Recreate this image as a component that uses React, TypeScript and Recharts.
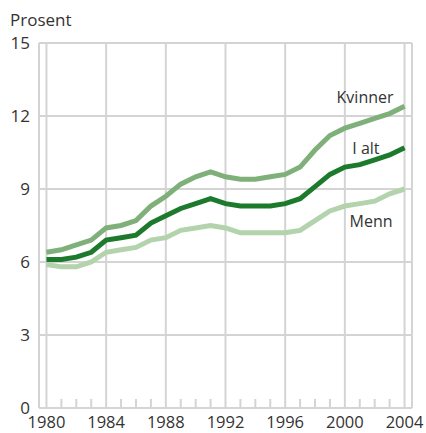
import React from 'react';
import { LineChart, Line, XAxis, YAxis, CartesianGrid, ReferenceLine, Customized } from 'recharts';

const years = [1980,1981,1982,1983,1984,1985,1986,1987,1988,1989,1990,1991,1992,1993,1994,1995,1996,1997,1998,1999,2000,2001,2002,2003,2004];
const kvinner = [6.4,6.5,6.7,6.9,7.4,7.5,7.7,8.3,8.7,9.2,9.5,9.7,9.5,9.4,9.4,9.5,9.6,9.9,10.6,11.2,11.5,11.7,11.9,12.1,12.4];
const iAlt = [6.1,6.1,6.2,6.4,6.9,7.0,7.1,7.6,7.9,8.2,8.4,8.6,8.4,8.3,8.3,8.3,8.4,8.6,9.1,9.6,9.9,10.0,10.2,10.4,10.7];
const menn = [5.9,5.8,5.8,6.0,6.4,6.5,6.6,6.9,7.0,7.3,7.4,7.5,7.4,7.2,7.2,7.2,7.2,7.3,7.7,8.1,8.3,8.4,8.5,8.8,9.0];
const majorYears = [1980,1984,1988,1992,1996,2000,2004];
const yTicks = [0,3,6,9,12,15];

const data = years.map((y, i) => ({ year: y, kvinner: kvinner[i], iAlt: iAlt[i], menn: menn[i] }));

const FONT = '"Open Sans", sans-serif';
const TEXT = '#333333';
const GRID = '#d4d4d4';

const XTick = (props: any) => {
  const { x, y, payload } = props;
  const v = payload.value;
  if (majorYears.includes(v)) {
    return <text x={x} y={y + 20} textAnchor="middle" fontSize={16.5} fontFamily={FONT} fill={TEXT}>{v}</text>;
  }
  return <line x1={x} x2={x} y1={y} y2={y - 9} stroke={GRID} strokeWidth={2} />;
};

const makeLabel = (text: string, dx: number, dy: number) => (props: any) => {
  const { x, y, index } = props;
  if (index !== years.length - 1) return null;
  return <text x={x + dx} y={y + dy} textAnchor="end" fontSize={16} fontFamily={FONT} fill={TEXT}>{text}</text>;
};

export default function App() {
  return (
    <div style={{ position: 'absolute', left: 0, top: 0 }}>
      <LineChart width={426} height={433} data={data} margin={{ top: 43, right: 14, left: 0, bottom: 0 }}>
        <CartesianGrid stroke={GRID} strokeWidth={2} verticalValues={majorYears} horizontalValues={yTicks} />
        <XAxis dataKey="year" type="number" domain={[1979.5, 2004.5]} ticks={years} interval={0}
          tick={<XTick />} tickLine={false} axisLine={false} tickSize={0} tickMargin={0} height={25} />
        <YAxis domain={[0, 15]} ticks={yTicks} width={39} tickLine={false} axisLine={false} tickSize={0} tickMargin={9}
          tick={{ fontSize: 17, fontFamily: FONT, fill: TEXT }} />
        <ReferenceLine x={1979.5} stroke={GRID} strokeWidth={2} />
        <ReferenceLine x={2004.5} stroke={GRID} strokeWidth={2} />
        <ReferenceLine y={15} stroke={GRID} strokeWidth={2} />
        <ReferenceLine y={0} stroke={GRID} strokeWidth={2} />
        <Line type="linear" dataKey="menn" stroke="#b3d3ad" strokeWidth={5} dot={false} isAnimationActive={false}
          label={makeLabel('Menn', -12, 38)} />
        <Line type="linear" dataKey="kvinner" stroke="#80b07a" strokeWidth={5} dot={false} isAnimationActive={false}
          label={makeLabel('Kvinner', -11, -3)} />
        <Line type="linear" dataKey="iAlt" stroke="#1d7a2c" strokeWidth={5} dot={false} isAnimationActive={false}
          label={makeLabel('I alt', -25, 6)} />
        <Customized component={() => (
          <text x={10} y={26} fontSize={17} fontFamily={FONT} fill={TEXT}>Prosent</text>
        )} />
      </LineChart>
    </div>
  );
}
